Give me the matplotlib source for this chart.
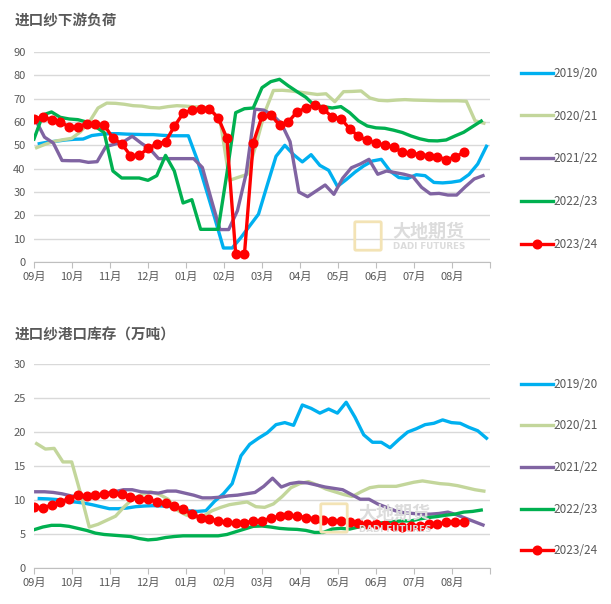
import numpy as np
import matplotlib
matplotlib.use('Agg')
import matplotlib.pyplot as plt
from matplotlib.patches import FancyBboxPatch

plt.rcParams['font.family'] = ['Noto Sans CJK SC', 'DejaVu Sans']

# ---- data (weekly, season starts in September) ----
months = ['09月', '10月', '11月', '12月', '01月', '02月', '03月', '04月', '05月', '06月', '07月', '08月']
seasons = ['2019/20', '2020/21', '2021/22', '2022/23', '2023/24']

# 进口纱下游负荷
load_1920 = [50.7, 51.4, 51.8, 52.3, 52.6, 52.7, 54.2, 54.7, 55, 55, 54.8, 54.7, 54.6, 54.6, 54.3, 54.1,
             54.1, 54.1, 44, 31.5, 19, 6, 6, 10.5, 15.5, 20.5, 33, 45.3, 50, 46, 42.9, 46, 41.4, 39.3,
             32.4, 35.3, 38.5, 41.2, 43.3, 44, 39, 36.2, 35.8, 37.4, 37, 34.1, 33.9, 34.2, 34.8, 37.5,
             42, 49.6]
load_2021 = [49, 50.5, 51.7, 52.4, 53, 55.8, 60, 66, 68.1, 68, 67.6, 67, 66.8, 66.2, 66, 66.6, 67, 66.8,
             66.5, 66.5, 65, 59, 35, 36.3, 37.5, 50, 64, 73.5, 73.6, 73.3, 72.8, 72.3, 71.8, 72.1, 68.7,
             73, 73.1, 73.3, 70.3, 69.3, 69.1, 69.4, 69.6, 69.4, 69.3, 69.2, 69.1, 69.1, 69.1, 68.9,
             60.5, 59.5]
load_2122 = [60.7, 53.5, 51, 43.5, 43.4, 43.4, 42.7, 43, 49.5, 50.5, 51.5, 53.9, 51, 48.5, 44.3, 44.3,
             44.3, 44.3, 44.3, 40.5, 27, 13.9, 13.9, 22, 38, 65.5, 65.1, 63, 59.4, 51.6, 30, 28, 30.5,
             33, 29, 35.9, 40.4, 42, 44, 37.6, 39, 38.3, 37.6, 36.6, 32, 29.2, 29.4, 28.7, 28.7, 32.3,
             35.6, 37]
load_2223 = [52.7, 63, 64.3, 62, 61.3, 61, 60, 58, 55.5, 39, 36, 36, 36, 35, 37, 45.7, 39, 25.3, 26.7,
             14, 14, 14, 38, 64, 65.7, 66, 74.7, 77.3, 78.3, 75.5, 73, 70.6, 67, 66.6, 66, 66.6, 64, 60.5,
             58.3, 57.5, 57.3, 56.5, 55.5, 54, 52.8, 52, 51.9, 52.3, 54, 55.6, 58, 60.4]
load_2324 = [61.4, 62.1, 61, 60, 57.9, 58, 59.3, 59.3, 58.7, 53.1, 50.7, 45.6, 45.7, 48.7, 50.6, 51.6,
             58.1, 63.7, 65.1, 65.6, 65.6, 61.9, 53, 3.4, 3.4, 51, 62.4, 63.1, 58.6, 60, 64.4, 65.9, 67.3,
             65.6, 62.1, 61.4, 57.1, 53.9, 52.1, 51, 50, 49.3, 47, 46.7, 46, 45.6, 45, 43.9, 44.9, 47]

# 进口纱港口库存（万吨）
stock_1920 = [10.2, 10.15, 10.05, 9.85, 9.7, 9.55, 9.3, 9, 8.7, 8.7, 8.8, 9, 9.1, 9.15, 9.1, 9, 8.7,
              8.4, 8.3, 8.4, 9.8, 10.9, 12.4, 16.5, 18.2, 19.1, 19.9, 21.1, 21.4, 21, 24, 23.5, 22.8,
              23.4, 22.8, 24.4, 22.2, 19.6, 18.5, 18.5, 17.7, 18.9, 20, 20.5, 21.1, 21.3, 21.8, 21.4,
              21.3, 20.7, 20.2, 19.1]
stock_2021 = [18.3, 17.5, 17.6, 15.6, 15.6, 11, 6, 6.4, 7, 7.6, 9, 10.2, 10.8, 11.2, 10.8, 10.1, 8.5,
              7.8, 7.4, 7.6, 8.4, 8.9, 9.3, 9.5, 9.7, 9, 8.9, 9.4, 10.5, 11.8, 12.4, 12.7, 12.2, 11.6,
              11.2, 10.8, 10.5, 11.2, 11.8, 12, 12, 12, 12.3, 12.6, 12.8, 12.6, 12.4, 12.3, 12.1, 11.8,
              11.5, 11.3]
stock_2122 = [11.2, 11.2, 11.1, 10.9, 10.6, 10.4, 10.4, 10.7, 11, 11.2, 11.5, 11.5, 11.2, 11.1, 11,
              11.3, 11.3, 11, 10.7, 10.3, 10.3, 10.4, 10.6, 10.7, 10.9, 11.1, 12, 13.2, 11.9, 12.4,
              12.6, 12.5, 12.2, 11.9, 11.7, 11.5, 10.8, 10.1, 10.1, 9.4, 8.9, 8.4, 8.1, 8, 7.9, 7.9, 8,
              8.2, 7.8, 7.3, 6.8, 6.3]
stock_2223 = [5.6, 6, 6.25, 6.25, 6.1, 5.8, 5.5, 5.1, 4.9, 4.8, 4.7, 4.6, 4.3, 4.1, 4.2, 4.45, 4.6, 4.7,
              4.7, 4.7, 4.7, 4.7, 4.9, 5.3, 5.7, 6.1, 6.15, 6, 5.8, 5.7, 5.65, 5.5, 5.2, 5.2, 5.7, 5.8,
              5.7, 6, 6.4, 6.55, 6.65, 6.8, 6.9, 6.9, 7.2, 7.4, 7.55, 7.75, 7.9, 8.2, 8.3, 8.5]
stock_2324 = [8.9, 8.8, 9.25, 9.7, 10.2, 10.7, 10.6, 10.7, 10.8, 11, 10.8, 10.5, 10.2, 10.1, 9.7, 9.5,
              9.1, 8.6, 7.9, 7.4, 7.2, 6.9, 6.7, 6.6, 6.6, 6.9, 6.9, 7.3, 7.6, 7.7, 7.6, 7.4, 7.2, 7.1,
              6.9, 6.85, 6.8, 6.6, 6.4, 6.4, 6.3, 6.1, 6, 6.1, 6.2, 6.4, 6.4, 6.7, 6.8, 6.8]

# each season's weekly dates fall a little differently against the month axis
week_shift = [0.6, 0.3, 0.2, 0.0, 0.0]
colors = ['#00B0F0', '#C3D69B', '#8064A2', '#00B050', '#FF0000']
grey = '#595959'

fig = plt.figure(figsize=(6.11, 6.04), dpi=100)
W, H = 611, 604


def px_axes(left, top, right, bottom):
    return fig.add_axes([left / W, 1 - bottom / H, (right - left) / W, (bottom - top) / H])


def draw_panel(ax, series, ymax, ystep, legend_top, legend_gap):
    for i, (vals, lab) in enumerate(zip(series, seasons)):
        x = np.arange(len(vals)) + week_shift[i]
        if i == 4:
            ax.plot(x, vals, color=colors[i], lw=2.4, marker='o', ms=6.2, label=lab, zorder=5)
        else:
            ax.plot(x, vals, color=colors[i], lw=2.4, label=lab, zorder=3 + i * 0.1)
    ax.set_xlim(0, 52)
    ax.set_ylim(0, ymax)
    ax.set_yticks(np.arange(0, ymax + 0.1, ystep))
    ticks = np.arange(13) * 52 / 12
    ax.set_xticks(ticks)
    ax.set_xticklabels(months + [''])
    ax.grid(axis='y', color='#d9d9d9', lw=1)
    ax.set_axisbelow(True)
    for s in ['top', 'right', 'left']:
        ax.spines[s].set_visible(False)
    ax.spines['bottom'].set_color('#bfbfbf')
    ax.tick_params(axis='y', length=0, labelsize=8, labelcolor=grey, pad=6)
    ax.tick_params(axis='x', length=4, color='#bfbfbf', labelsize=8, labelcolor=grey, pad=3)
    ax.legend(loc='upper left', bbox_to_anchor=(516 / W, 1 - legend_top / H),
              bbox_transform=fig.transFigure, frameon=False, fontsize=8.5,
              labelcolor=grey, handlelength=2.7, handletextpad=0.05,
              labelspacing=legend_gap, borderaxespad=0)


def watermark(x0, yc):
    # faint company logo + name behind the lines
    box = FancyBboxPatch(((x0) / W, 1 - (yc + 13) / H), 24 / W, 26 / H,
                         boxstyle='round,pad=0.002', transform=fig.transFigure,
                         fc='none', ec='#f3e3b5', lw=2, zorder=0)
    fig.patches.append(box)
    fig.text((x0 + 36) / W, 1 - (yc - 5) / H, '大地期货', fontsize=13, fontweight='bold',
             color='#dcdcdc', va='center', zorder=0)
    fig.text((x0 + 37) / W, 1 - (yc + 11) / H, 'DADI FUTURES', fontsize=6.3, fontweight='bold',
             color='#dcdcdc', va='center', family='DejaVu Sans', zorder=0)


ax1 = px_axes(34, 52, 490, 262)
draw_panel(ax1, [load_1920, load_2021, load_2122, load_2223, load_2324], 90, 10, 62, 2.53)
fig.text(15 / W, 1 - 20 / H, '进口纱下游负荷', fontsize=10.5, fontweight='bold', color=grey, va='center')

ax2 = px_axes(34, 364.3, 490, 567.7)
draw_panel(ax2, [stock_1920, stock_2021, stock_2122, stock_2223, stock_2324], 30, 5, 373, 2.43)
fig.text(15 / W, 1 - 334 / H, '进口纱港口库存（万吨）', fontsize=10.5, fontweight='bold', color=grey, va='center')

watermark(356, 236)
watermark(322, 518)

fig.savefig('out.png', dpi=100)
